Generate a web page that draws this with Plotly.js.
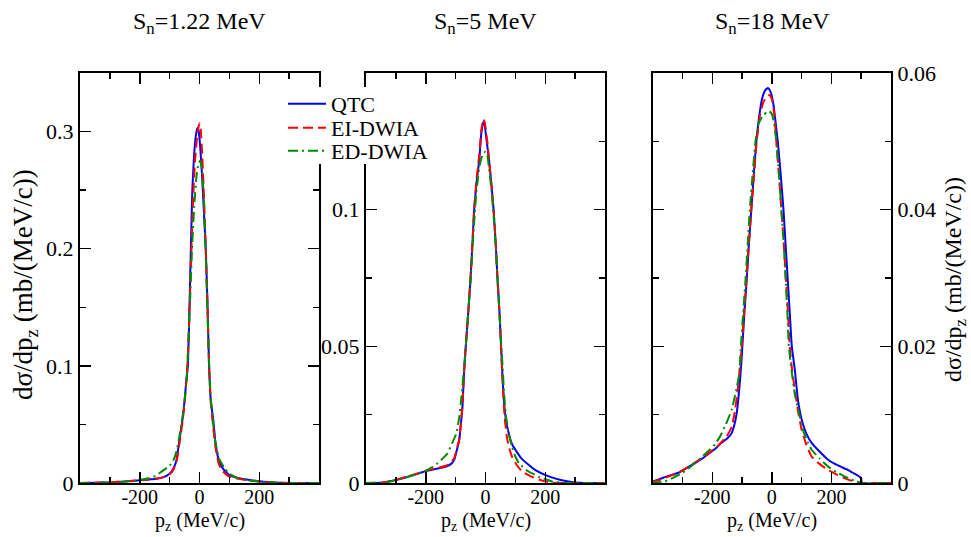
<!DOCTYPE html>
<html>
<head>
<meta charset="utf-8">
<script src="https://cdn.plot.ly/plotly-3.0.1.min.js"></script>
<style>html,body{margin:0;padding:0;background:#fff;}#chart{width:971px;height:537px;}</style>
</head>
<body>
<div id="chart"></div>
<script>
// ---------- data ----------
const seriesNames = ["QTC", "EI-DWIA", "ED-DWIA"];
const panelTitles = ["S<sub>n</sub>=1.22 MeV", "S<sub>n</sub>=5 MeV", "S<sub>n</sub>=18 MeV"];
const xTitle = "p<sub>z</sub> (MeV/c)";
const yTitle = "dσ/dp<sub>z</sub> (mb/(MeV/c))";
const xTickVals = [-200, 0, 200];
const xTickText = ["-200", "0", "200"];
const y1TickVals = [0, 0.1, 0.2, 0.3];
const y1TickText = ["0", "0.1", "0.2", "0.3"];
const y2TickVals = [0, 0.05, 0.1];
const y2TickText = ["0", "0.05", "0.1"];
const y3TickVals = [0, 0.02, 0.04, 0.06];
const y3TickText = ["0", "0.02", "0.04", "0.06"];

// Panel 1: Sn = 1.22 MeV
const qtc1_x = [-400,-350,-300,-250,-200,-170,-143,-120,-100,-88,-77,-67,-57,-50,-45,-39,-34,-29,-24,-18,-12,-7,-3,2,8,14,21,27,32,38,46,53,59,66,74,86,100,125,157,200,230,267,300,330,400];
const qtc1_y = [0,0.0002,0.0005,0.0013,0.0023,0.003,0.0037,0.005,0.008,0.012,0.0195,0.037,0.054,0.07,0.085,0.1,0.145,0.2,0.25,0.28,0.297,0.303,0.301,0.288,0.265,0.235,0.2,0.15,0.1,0.07,0.054,0.035,0.0254,0.018,0.014,0.01,0.0068,0.0045,0.003,0.0015,0.0008,0.0003,0.0001,0,0];
const ei1_x = [-400,-350,-300,-250,-200,-170,-143,-120,-100,-88,-77,-67,-57,-50,-43,-37,-32,-27,-21,-15,-9,-4,0,4,9,15,21,27,32,38,45,52,58,65,74,86,100,125,157,200,230,267,300,400];
const ei1_y = [0,0.0002,0.0006,0.0014,0.0025,0.003,0.0038,0.005,0.0075,0.011,0.018,0.034,0.052,0.068,0.09,0.12,0.16,0.2,0.245,0.275,0.293,0.303,0.307,0.302,0.28,0.245,0.2,0.15,0.1,0.068,0.05,0.033,0.024,0.016,0.011,0.008,0.0055,0.0038,0.0025,0.0012,0.0006,0.0002,0,0];
const ed1_x = [-400,-350,-300,-250,-200,-170,-147,-127,-100,-88,-77,-67,-57,-50,-43,-37,-31,-25,-18,-10,-3,2,7,13,19,25,31,37,44,52,60,67,74,86,100,125,157,200,230,267,300,400];
const ed1_y = [0,0.0001,0.0004,0.0012,0.0025,0.004,0.006,0.0097,0.0148,0.019,0.027,0.04,0.056,0.07,0.09,0.12,0.16,0.2,0.235,0.262,0.273,0.275,0.27,0.25,0.21,0.16,0.11,0.075,0.055,0.037,0.026,0.02,0.0168,0.012,0.008,0.0045,0.0025,0.0012,0.0006,0.0002,0,0];

// Panel 2: Sn = 5 MeV
const qtc2_x = [-400,-350,-332,-300,-266,-230,-199,-165,-132,-115,-105,-96,-88,-82,-77,-72,-66,-58,-50,-44,-38,-30,-21,-14,-8,-3,4,12,20,27,34,40,47,52,56,60,65,70,76,83,91,101,120,145,170,201,235,268,300,330,400];
const qtc2_y = [0,0.0001,0.0004,0.0011,0.0021,0.0033,0.0044,0.0052,0.006,0.007,0.0084,0.012,0.0157,0.022,0.028,0.04,0.05,0.062,0.075,0.087,0.1,0.11,0.118,0.128,0.132,0.131,0.125,0.118,0.109,0.1,0.088,0.075,0.062,0.05,0.041,0.033,0.026,0.022,0.019,0.016,0.0137,0.012,0.009,0.0066,0.0045,0.0029,0.0016,0.0007,0.0002,0,0];
const ei2_x = [-400,-350,-332,-300,-266,-230,-199,-165,-132,-115,-105,-96,-88,-82,-77,-72,-66,-58,-50,-44,-38,-30,-21,-13,-6,-1,6,13,20,27,34,40,47,52,56,60,65,72,80,89,105,124,150,179,200,224,250,400];
const ei2_y = [0,0.0001,0.0004,0.0011,0.0022,0.0034,0.0045,0.0054,0.0063,0.0075,0.009,0.0125,0.016,0.022,0.029,0.04,0.05,0.062,0.075,0.087,0.1,0.111,0.12,0.13,0.1331,0.131,0.125,0.117,0.109,0.1,0.088,0.075,0.062,0.05,0.04,0.031,0.023,0.0165,0.0125,0.0096,0.0065,0.0041,0.0025,0.0013,0.0006,0.0001,0,0];
const ed2_x = [-400,-350,-332,-300,-266,-230,-199,-180,-160,-143,-127,-112,-98,-88,-80,-72,-66,-58,-50,-44,-37,-30,-20,-10,0,6,13,20,27,34,40,47,53,58,62,68,76,88,100,112,140,179,200,224,260,290,400];
const ed2_y = [0,0.0001,0.0003,0.001,0.002,0.0033,0.0045,0.0057,0.0072,0.009,0.0109,0.0145,0.018,0.024,0.032,0.042,0.05,0.062,0.074,0.085,0.097,0.107,0.116,0.12,0.1212,0.12,0.114,0.107,0.098,0.087,0.075,0.062,0.05,0.041,0.033,0.025,0.019,0.0135,0.0097,0.0072,0.0045,0.0022,0.0014,0.0005,0.0001,0,0];

// Panel 3: Sn = 18 MeV
const qtc3_x = [-404,-381,-350,-314,-286,-258,-230,-202,-185,-169,-150,-135,-126,-118,-111,-104,-99,-92,-84,-77,-69,-61,-52,-43,-33,-22,-13,-5,5,12,20,30,39,46,53,60,67,77,88,100,115,133,160,189,220,256,280,295,300,302,400];
const qtc3_y = [0.0002,0.0005,0.001,0.0015,0.0022,0.0029,0.0037,0.0046,0.0052,0.0059,0.0065,0.0073,0.0085,0.0102,0.013,0.0166,0.02,0.025,0.03,0.035,0.04,0.045,0.05,0.0535,0.0562,0.0575,0.0578,0.0573,0.0555,0.053,0.05,0.045,0.04,0.035,0.03,0.025,0.02,0.0166,0.012,0.0093,0.0073,0.0059,0.0046,0.0034,0.0026,0.0019,0.0013,0.0009,0.0007,0,0];
const ei3_x = [-404,-381,-350,-314,-286,-258,-230,-202,-180,-152,-135,-124,-115,-107,-101,-93,-85,-77,-69,-60,-51,-40,-28,-16,-8,0,8,15,24,32,40,47,54,60,68,77,88,100,115,133,160,189,220,256,280,300,400];
const ei3_y = [0.0001,0.0004,0.0009,0.0015,0.0022,0.003,0.0038,0.0047,0.0055,0.0068,0.0082,0.0105,0.0135,0.017,0.02,0.025,0.03,0.035,0.04,0.045,0.05,0.0538,0.0558,0.0566,0.0568,0.0562,0.054,0.05,0.045,0.04,0.035,0.03,0.025,0.02,0.0165,0.0137,0.0105,0.0078,0.0057,0.0039,0.0028,0.0019,0.0012,0.0005,0.0002,0,0];
const ed3_x = [-404,-381,-359,-330,-300,-270,-240,-208,-190,-174,-155,-135,-120,-109,-104,-96,-88,-81,-74,-65,-55,-45,-30,-15,-8,0,8,15,24,32,40,46,52,57,66,77,89,105,120,133,160,189,220,256,280,300,400];
const ed3_y = [0.00005,0.0001,0.0002,0.0008,0.0015,0.0025,0.0036,0.0049,0.0057,0.0068,0.0085,0.0107,0.0135,0.0161,0.02,0.025,0.03,0.035,0.04,0.045,0.05,0.0525,0.0538,0.0543,0.0544,0.054,0.0525,0.05,0.045,0.04,0.035,0.03,0.025,0.02,0.0165,0.013,0.0107,0.0077,0.006,0.0049,0.0036,0.0024,0.0015,0.0007,0.0003,0,0];

// ---------- styles ----------
const FONT = "Liberation Serif";
const colors = ["#0000ff", "#ff0000", "#008b00"];
const dashes = ["solid", "10px,5px", "10px,4px,2px,4px"];
const legendIds = ["legend", "legend2", "legend3"];

const panels = [
  [[qtc1_x, qtc1_y], [ei1_x, ei1_y], [ed1_x, ed1_y]],
  [[qtc2_x, qtc2_y], [ei2_x, ei2_y], [ed2_x, ed2_y]],
  [[qtc3_x, qtc3_y], [ei3_x, ei3_y], [ed3_x, ed3_y]]
];

const traces = [];
panels.forEach((p, pi) => {
  p.forEach((s, si) => {
    traces.push({
      x: s[0], y: s[1], type: "scatter", mode: "lines",
      name: seriesNames[si],
      xaxis: pi === 0 ? "x" : "x" + (pi + 1),
      yaxis: pi === 0 ? "y" : "y" + (pi + 1),
      line: {color: colors[si], width: 2, dash: dashes[si], shape: "spline", smoothing: 0.4},
      showlegend: pi === 0,
      legend: legendIds[si],
      hoverinfo: "skip"
    });
  });
});

const W = 971, H = 537, ML = 80, MR = 80, MT = 73, MB = 54;
const PW = W - ML - MR, PH = H - MT - MB;
function dom(a, b) { return [(a - ML) / PW, (b - ML) / PW]; }
function px(v) { return (v - ML) / PW; }
function py(v) { return (H - MB - v) / PH; }

const TICKFONT = {family: FONT, size: 22, color: "#000"};
function xaxis(d, anchor) {
  return {
    domain: d, anchor: anchor, range: [-400, 400],
    tickmode: "array", tickvals: xTickVals, ticktext: xTickText,
    ticks: "inside", ticklen: 11, tickwidth: 1.5, tickcolor: "#000",
    minor: {tickmode: "linear", tick0: 0, dtick: 100, ticks: "inside", ticklen: 6, tickwidth: 1.5, tickcolor: "#000"},
    showline: true, linecolor: "#000", linewidth: 2, mirror: "allticks",
    showgrid: false, zeroline: false, ticklabelstandoff: -5,
    tickfont: {family: FONT, size: 20, color: "#000"}, automargin: false, fixedrange: true
  };
}
function yaxis(range, tv, tt, minorD, anchor, side) {
  return {
    domain: [0, 1], anchor: anchor, range: range, side: side || "left",
    tickmode: "array", tickvals: tv, ticktext: tt,
    ticks: "inside", ticklen: 11, tickwidth: 1.5, tickcolor: "#000",
    minor: {tickmode: "linear", tick0: 0, dtick: minorD, ticks: "inside", ticklen: 6, tickwidth: 1.5, tickcolor: "#000"},
    showline: true, linecolor: "#000", linewidth: 2, mirror: "allticks",
    showgrid: false, zeroline: false,
    tickfont: TICKFONT, automargin: false, fixedrange: true
  };
}

const centers = [199.5, 485.5, 772];
const annotations = [];
centers.forEach((c, i) => {
  annotations.push({xref: "paper", yref: "paper", x: px(c), y: py(23), text: panelTitles[i],
    showarrow: false, xanchor: "center", yanchor: "middle", font: {family: FONT, size: 24, color: "#000"}});
  annotations.push({xref: "paper", yref: "paper", x: px(c), y: py(536), text: xTitle,
    showarrow: false, xanchor: "center", yanchor: "bottom", font: {family: FONT, size: 20, color: "#000"}});
});
annotations.push({xref: "paper", yref: "paper", x: px(25), y: py(285), text: yTitle,
  textangle: -90, showarrow: false, xanchor: "center", yanchor: "middle", font: {family: FONT, size: 27, color: "#000"}});
annotations.push({xref: "paper", yref: "paper", x: px(955), y: py(280), text: yTitle,
  textangle: -90, showarrow: false, xanchor: "center", yanchor: "middle", font: {family: FONT, size: 24, color: "#000"}});

function legendBox(yc) {
  return {x: px(283), y: py(yc), xanchor: "left", yanchor: "middle", bgcolor: "rgba(0,0,0,0)",
    borderwidth: 0, itemwidth: 38, font: {family: FONT, size: 22, color: "#000"}};
}

const layout = {
  width: W, height: H,
  margin: {l: ML, r: MR, t: MT, b: MB, pad: 0},
  paper_bgcolor: "#fff", plot_bgcolor: "#fff",
  font: {family: FONT, size: 22, color: "#000"},
  xaxis: xaxis(dom(80, 319), "y"),
  xaxis2: xaxis(dom(366, 605), "y2"),
  xaxis3: xaxis(dom(652.7, 891), "y3"),
  yaxis: yaxis([0, 0.35], y1TickVals, y1TickText, 0.05, "x"),
  yaxis2: yaxis([0, 0.15], y2TickVals, y2TickText, 0.025, "x2"),
  yaxis3: yaxis([0, 0.06], y3TickVals, y3TickText, 0.01, "x3", "right"),
  showlegend: true,
  legend: legendBox(104),
  legend2: legendBox(128),
  legend3: legendBox(151),
  shapes: [{type: "rect", xref: "paper", yref: "paper", x0: px(283), x1: px(448), y0: py(164), y1: py(87),
    fillcolor: "#ffffff", line: {width: 0}, layer: "above"}],
  annotations: annotations
};

Plotly.newPlot("chart", traces, layout, {staticPlot: true, displayModeBar: false});
</script>
</body>
</html>
